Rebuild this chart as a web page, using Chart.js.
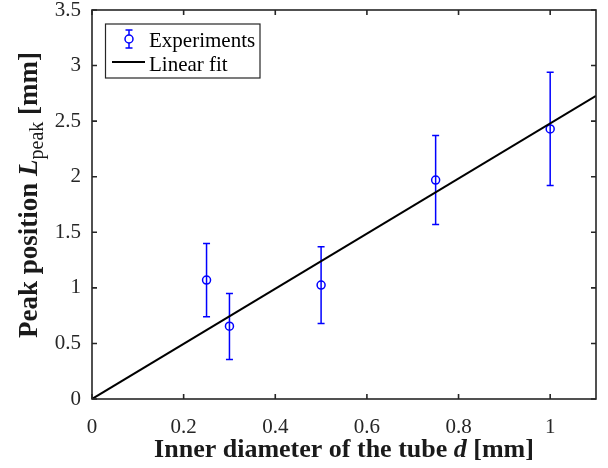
<!DOCTYPE html>
<html>
<head>
<meta charset="utf-8">
<title>Peak position vs inner diameter</title>
<script src="https://cdn.jsdelivr.net/npm/chart.js@4.4.0/dist/chart.umd.min.js"></script>
<style>
  html, body { margin: 0; padding: 0; background: #fff; }
  #wrap { width: 608px; height: 468px; }
</style>
</head>
<body>
<div id="wrap"><canvas id="chart" width="608" height="468"></canvas></div>
<script>
const diameters = [0.25, 0.3, 0.5, 0.75, 1.0];
const peakPos   = [1.07, 0.655, 1.025, 1.97, 2.43];
const errLow    = [0.74, 0.355, 0.68, 1.57, 1.92];
const errHigh   = [1.40, 0.95, 1.37, 2.37, 2.94];

// linear fit through the origin
const fitX = [0, 1.1];
const fitY = [0, 2.727];

const xTicks = [0, 0.2, 0.4, 0.6, 0.8, 1];
const yTicks = [0, 0.5, 1, 1.5, 2, 2.5, 3, 3.5];

const serif = "'Liberation Serif', 'Times New Roman', serif";
const axisColor = '#262626';
const blue = '#0000ff';

// vertical error bars, drawn through the chart scales
const errorBars = {
  id: 'errorBars',
  beforeDatasetsDraw(chart) {
    const { ctx, scales: { x, y } } = chart;
    ctx.save();
    ctx.strokeStyle = blue;
    ctx.lineWidth = 1.5;
    diameters.forEach((d, i) => {
      const px = x.getPixelForValue(d);
      const lo = y.getPixelForValue(errLow[i]);
      const hi = y.getPixelForValue(errHigh[i]);
      ctx.beginPath();
      ctx.moveTo(px, lo); ctx.lineTo(px, hi);
      ctx.moveTo(px - 3.5, lo); ctx.lineTo(px + 3.5, lo);
      ctx.moveTo(px - 3.5, hi); ctx.lineTo(px + 3.5, hi);
      ctx.stroke();
    });
    ctx.restore();
  }
};

// box around the axes with inward ticks on all four sides
const frame = {
  id: 'frame',
  afterDatasetsDraw(chart) {
    const { ctx, chartArea: a, scales: { x, y } } = chart;
    const len = 5;
    ctx.save();
    ctx.strokeStyle = axisColor;
    ctx.lineWidth = 1.6;
    ctx.beginPath();
    xTicks.forEach(v => {
      const px = x.getPixelForValue(v);
      ctx.moveTo(px, a.bottom); ctx.lineTo(px, a.bottom - len);
      ctx.moveTo(px, a.top); ctx.lineTo(px, a.top + len);
    });
    yTicks.forEach(v => {
      const py = y.getPixelForValue(v);
      ctx.moveTo(a.left, py); ctx.lineTo(a.left + len, py);
      ctx.moveTo(a.right, py); ctx.lineTo(a.right - len, py);
    });
    ctx.stroke();
    ctx.strokeRect(a.left, a.top, a.right - a.left, a.bottom - a.top);
    ctx.restore();
  }
};

// draws a run of text pieces with different fonts / offsets
function richWidth(ctx, parts) {
  let w = 0;
  parts.forEach(p => { ctx.font = p.font; w += ctx.measureText(p.text).width; });
  return w;
}
function drawRich(ctx, parts, x, y) {
  parts.forEach(p => {
    ctx.font = p.font;
    ctx.fillText(p.text, x, y + (p.dy || 0));
    x += ctx.measureText(p.text).width;
  });
}

const titles = {
  id: 'titles',
  afterDraw(chart) {
    const { ctx, chartArea: a } = chart;
    const bold = 'bold 26px ' + serif;
    const boldIt = 'italic bold 26px ' + serif;
    ctx.save();
    ctx.fillStyle = '#1a1a1a';
    ctx.textBaseline = 'alphabetic';
    ctx.textAlign = 'left';

    const xParts = [
      { text: 'Inner diameter of the tube ', font: bold },
      { text: 'd', font: boldIt },
      { text: ' [mm]', font: bold }
    ];
    const xw = richWidth(ctx, xParts);
    drawRich(ctx, xParts, (a.left + a.right) / 2 - xw / 2, 457);

    const yBold = 'bold 27px ' + serif;
    const yParts = [
      { text: 'Peak position ', font: yBold },
      { text: 'L', font: 'italic bold 27px ' + serif },
      { text: 'peak', font: '20px ' + serif, dy: 6 },
      { text: ' [mm]', font: yBold }
    ];
    const yw = richWidth(ctx, yParts);
    ctx.translate(37, 195);
    ctx.rotate(-Math.PI / 2);
    drawRich(ctx, yParts, -yw / 2, 0);
    ctx.restore();
  }
};

const legendBox = {
  id: 'legendBox',
  afterDraw(chart) {
    const { ctx } = chart;
    ctx.save();
    ctx.fillStyle = '#fff';
    ctx.fillRect(105.5, 24, 154.5, 54);
    ctx.strokeStyle = axisColor;
    ctx.lineWidth = 1.2;
    ctx.strokeRect(105.5, 24, 154.5, 54);

    // experiments symbol
    ctx.strokeStyle = blue;
    ctx.lineWidth = 1.5;
    ctx.beginPath();
    ctx.moveTo(129, 30); ctx.lineTo(129, 48);
    ctx.moveTo(125.5, 30); ctx.lineTo(132.5, 30);
    ctx.moveTo(125.5, 48); ctx.lineTo(132.5, 48);
    ctx.stroke();
    ctx.fillStyle = '#fff';
    ctx.beginPath();
    ctx.arc(129, 39, 4, 0, Math.PI * 2);
    ctx.fill();
    ctx.stroke();

    // fit symbol
    ctx.strokeStyle = '#000';
    ctx.lineWidth = 2;
    ctx.beginPath();
    ctx.moveTo(112, 62); ctx.lineTo(145, 62);
    ctx.stroke();

    ctx.fillStyle = '#000';
    ctx.font = '21px ' + serif;
    ctx.textBaseline = 'alphabetic';
    ctx.fillText(chart.data.datasets[0].label, 149, 47);
    ctx.fillText(chart.data.datasets[1].label, 149, 71);
    ctx.restore();
  }
};

const tickFont = { family: serif, size: 21 };

new Chart(document.getElementById('chart'), {
  type: 'scatter',
  data: {
    datasets: [
      {
        label: 'Experiments',
        data: diameters.map((d, i) => ({ x: d, y: peakPos[i] })),
        pointStyle: 'circle',
        pointRadius: 4,
        pointBorderWidth: 1.5,
        borderColor: blue,
        backgroundColor: 'rgba(0,0,0,0)',
        showLine: false,
        order: 1
      },
      {
        label: 'Linear fit',
        data: fitX.map((v, i) => ({ x: v, y: fitY[i] })),
        showLine: true,
        pointRadius: 0,
        borderColor: '#000',
        borderWidth: 2,
        order: 0
      }
    ]
  },
  options: {
    responsive: false,
    animation: false,
    devicePixelRatio: 1,
    layout: { padding: { top: 10, right: 12, left: 0, bottom: 0 } },
    plugins: {
      legend: { display: false },
      tooltip: { enabled: false }
    },
    scales: {
      x: {
        type: 'linear',
        min: 0,
        max: 1.1,
        afterBuildTicks: s => { s.ticks = xTicks.map(v => ({ value: v })); },
        afterFit: s => {
          s.height = 69;
          s.paddingLeft = 0;
          s.paddingRight = 0;
        },
        grid: { display: false },
        border: { display: false },
        ticks: {
          callback: v => String(v),
          font: tickFont,
          color: axisColor,
          padding: 8,
          maxRotation: 0,
          autoSkip: false
        }
      },
      y: {
        type: 'linear',
        min: 0,
        max: 3.5,
        afterBuildTicks: s => { s.ticks = yTicks.map(v => ({ value: v })); },
        afterFit: s => {
          s.width = 92;
          s.paddingTop = 0;
          s.paddingBottom = 0;
        },
        grid: { display: false },
        border: { display: false },
        ticks: {
          callback: v => String(v),
          font: tickFont,
          color: axisColor,
          padding: 3,
          autoSkip: false
        }
      }
    }
  },
  plugins: [errorBars, frame, titles, legendBox]
});
</script>
</body>
</html>
